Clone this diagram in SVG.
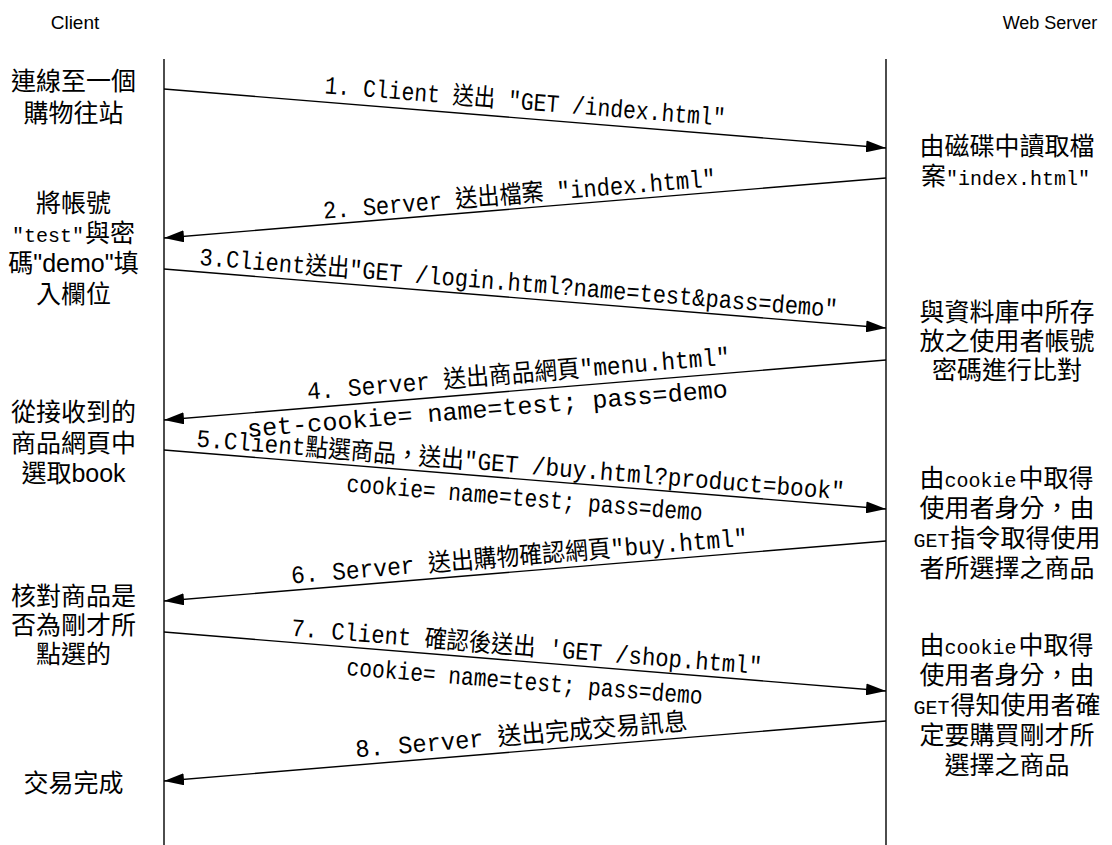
<svg xmlns="http://www.w3.org/2000/svg" width="1112" height="845" viewBox="0 0 1112 845">
<style>
.hdr{font-family:"Liberation Sans","Noto Sans CJK TC",sans-serif;fill:#000;text-anchor:middle}
.note{font-family:"Liberation Sans","Noto Sans CJK TC",sans-serif;font-size:25px;fill:#000;text-anchor:middle}
.ns{font-family:"Liberation Sans","Noto Sans CJK TC",sans-serif;font-size:25px;fill:#000;text-anchor:start}
.mono{font-family:"Liberation Mono",monospace;font-size:20px;fill:#000;text-anchor:start}
.lbl{font-family:"Liberation Mono","Noto Sans CJK TC",monospace;font-size:25px;fill:#000;text-anchor:middle}
.life{stroke:#000;stroke-width:1.4;fill:none}
.msg{stroke:#000;stroke-width:1.4;fill:none;marker-end:url(#ah)}
</style>
<defs>
<marker id="ah" markerUnits="userSpaceOnUse" markerWidth="20" markerHeight="12" refX="20" refY="6" orient="auto">
<path d="M0,0 L20,6 L0,12 z" fill="#000"/>
</marker>
</defs>
<rect width="1112" height="845" fill="#fff"/>
<g id="client">
<text class="hdr" x="75" y="29" font-size="19">Client</text>
<line class="life" x1="164" y1="59" x2="164" y2="845"/>
</g>
<g id="server">
<text class="hdr" x="1050" y="29" font-size="18">Web Server</text>
<line class="life" x1="886" y1="59" x2="886" y2="845"/>
</g>
<g id="client-notes">
<text class="note" x="73.5" y="89.5">連線至一個</text>
<text class="note" x="73.5" y="121.5">購物往站</text>
<text class="note" x="73.5" y="211.5">將帳號</text>
<text class="mono" x="12" y="241.5">"test"</text>
<text class="ns" x="85" y="241.5">與密</text>
<text class="note" x="73.5" y="271.5">碼"demo"填</text>
<text class="note" x="73.5" y="302.5">入欄位</text>
<text class="note" x="73.5" y="420.5">從接收到的</text>
<text class="note" x="73.5" y="451.5">商品網頁中</text>
<text class="note" x="73.5" y="481.5">選取book</text>
<text class="note" x="73.5" y="604.5">核對商品是</text>
<text class="note" x="73.5" y="633.5">否為剛才所</text>
<text class="note" x="73.5" y="662.5">點選的</text>
<text class="note" x="73.5" y="791.5">交易完成</text>
</g>
<g id="server-notes">
<text class="note" x="1007" y="154.5">由磁碟中讀取檔</text>
<text class="ns" x="921" y="184.5">案</text>
<text class="mono" x="946" y="184.5">"index.html"</text>
<text class="note" x="1007" y="320.5">與資料庫中所存</text>
<text class="note" x="1007" y="349.5">放之使用者帳號</text>
<text class="note" x="1007" y="378.5">密碼進行比對</text>
<text class="ns" x="919.5" y="486.5">由</text>
<text class="mono" x="944.5" y="486.5">cookie</text>
<text class="ns" x="1018.5" y="486.5">中取得</text>
<text class="note" x="1007" y="516.5">使用者身分，由</text>
<text class="mono" x="913.5" y="546.5">GET</text>
<text class="ns" x="950.5" y="546.5">指令取得使用</text>
<text class="note" x="1007" y="576.5">者所選擇之商品</text>
<text class="ns" x="919.5" y="653.5">由</text>
<text class="mono" x="944.5" y="653.5">cookie</text>
<text class="ns" x="1018.5" y="653.5">中取得</text>
<text class="note" x="1007" y="683.5">使用者身分，由</text>
<text class="mono" x="913.5" y="713.5">GET</text>
<text class="ns" x="950.5" y="713.5">得知使用者確</text>
<text class="note" x="1007" y="743.5">定要購買剛才所</text>
<text class="note" x="1007" y="773.5">選擇之商品</text>
</g>
<g id="connectors">
<line class="msg" x1="164" y1="89" x2="886" y2="148"/>
<line class="msg" x1="886" y1="178" x2="164" y2="238"/>
<line class="msg" x1="164" y1="269" x2="886" y2="328"/>
<line class="msg" x1="886" y1="360" x2="164" y2="420"/>
<line class="msg" x1="164" y1="450" x2="886" y2="509"/>
<line class="msg" x1="886" y1="541" x2="164" y2="601"/>
<line class="msg" x1="164" y1="632" x2="886" y2="691"/>
<line class="msg" x1="886" y1="721" x2="164" y2="781"/>
</g>
<g id="labels">
<text class="lbl" transform="translate(524.5,109.5) rotate(4.67)" textLength="402" lengthAdjust="spacingAndGlyphs">1. Client 送出 "GET /index.html"</text>
<text class="lbl" transform="translate(520,202.5) rotate(-4.75)" textLength="394" lengthAdjust="spacingAndGlyphs">2. Server 送出檔案 "index.html"</text>
<text class="lbl" transform="translate(518,291) rotate(4.67)" textLength="640" lengthAdjust="spacingAndGlyphs">3.Client送出"GET /login.html?name=test&amp;pass=demo"</text>
<text class="lbl" transform="translate(519,382) rotate(-4.75)" textLength="424" lengthAdjust="spacingAndGlyphs">4. Server 送出商品網頁"menu.html"</text>
<text class="lbl" transform="translate(488,417) rotate(-4.75)" textLength="482" lengthAdjust="spacingAndGlyphs">set-cookie= name=test; pass=demo</text>
<text class="lbl" transform="translate(520,473) rotate(4.67)" textLength="650" lengthAdjust="spacingAndGlyphs">5.Client點選商品，送出"GET /buy.html?product=book"</text>
<text class="lbl" transform="translate(524,506) rotate(4.67)" textLength="357" lengthAdjust="spacingAndGlyphs">cookie= name=test; pass=demo</text>
<text class="lbl" transform="translate(520,564.5) rotate(-4.75)" textLength="458" lengthAdjust="spacingAndGlyphs">6. Server 送出購物確認網頁"buy.html"</text>
<text class="lbl" transform="translate(526,655) rotate(4.67)" textLength="472" lengthAdjust="spacingAndGlyphs">7. Client 確認後送出 'GET /shop.html"</text>
<text class="lbl" transform="translate(524,689.5) rotate(4.67)" textLength="357" lengthAdjust="spacingAndGlyphs">cookie= name=test; pass=demo</text>
<text class="lbl" transform="translate(522,743.5) rotate(-4.75)" textLength="333" lengthAdjust="spacingAndGlyphs">8. Server 送出完成交易訊息</text>
</g>
</svg>
